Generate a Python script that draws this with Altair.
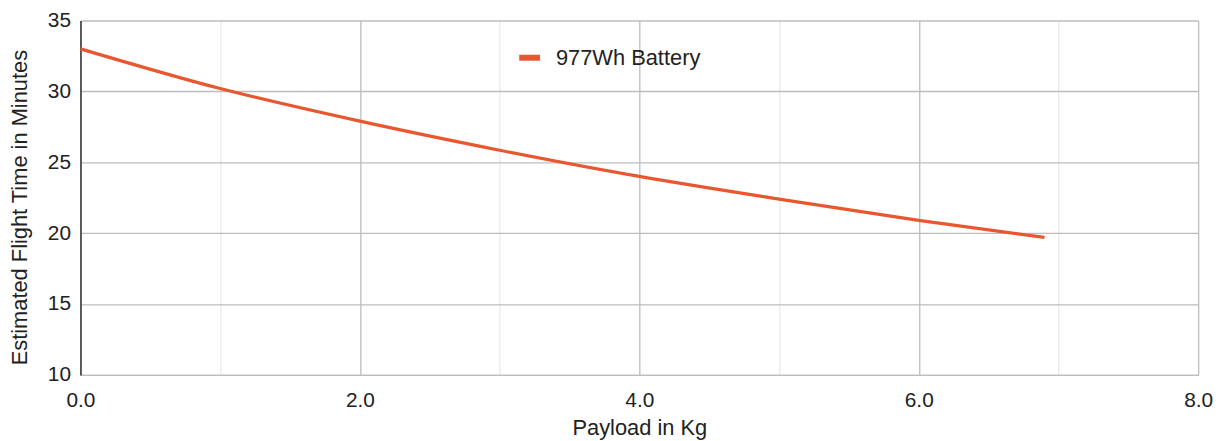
import altair as alt
import pandas as pd

payload_kg = [0.0, 1.0, 2.0, 3.0, 4.0, 5.0, 6.0, 6.9]
flight_min = [33.0, 30.2, 27.9, 25.85, 24.0, 22.4, 20.9, 19.7]
series_name = "977Wh Battery"
x_ticks = [0, 1, 2, 3, 4, 5, 6, 7, 8]
y_ticks = [10, 15, 20, 25, 30, 35]

df = pd.DataFrame({"payload": payload_kg, "time": flight_min, "series": series_name})

FONT = "Liberation Sans"
LINE_COLOR = "#e8572f"

chart = alt.Chart(df).mark_line(strokeWidth=3.2, interpolate="monotone").encode(
    x=alt.X(
        "payload:Q",
        scale=alt.Scale(domain=[0, 8], nice=False, zero=False),
        axis=alt.Axis(
            values=x_ticks,
            title="Payload in Kg",
            labelExpr="datum.value % 2 == 0 ? format(datum.value, '.1f') : ''",
            labelFlush=False,
            ticks=False,
            labelPadding=15,
            titlePadding=7,
            gridColor={"condition": {"test": "datum.value % 2 == 1", "value": "#ebebeb"}, "value": "#bdbdbd"},
            gridWidth=1.3,
            domainColor="#bdbdbd",
            domainWidth=1.5,
        ),
    ),
    y=alt.Y(
        "time:Q",
        scale=alt.Scale(domain=[10, 35], nice=False, zero=False),
        axis=alt.Axis(
            values=y_ticks,
            title="Estimated Flight Time in Minutes",
            titleY=188,
            ticks=False,
            labelPadding=10,
            titlePadding=16,
            gridColor="#bdbdbd",
            gridWidth=1.3,
            domainColor="#333333",
            domainWidth=1.5,
        ),
    ),
    color=alt.Color(
        "series:N",
        scale=alt.Scale(domain=[series_name], range=[LINE_COLOR]),
        legend=alt.Legend(
            title=None,
            orient="none",
            legendX=439,
            legendY=24,
            symbolType="stroke",
            symbolStrokeWidth=6,
            symbolSize=440,
            labelFontSize=22,
            labelFont=FONT,
            labelColor="#222222",
            labelOffset=13,
        ),
    ),
).properties(
    width=1126, height=357,
    padding={"left": 0, "top": 0, "right": 10, "bottom": 0},
).configure_axis(
    labelFont=FONT,
    titleFont=FONT,
    labelFontSize=21,
    titleFontSize=22,
    labelColor="#222222",
    titleColor="#222222",
    titleFontWeight="normal",
).configure_view(stroke=None)

chart.save("out.html", embed_options={"renderer": "svg", "actions": False})
